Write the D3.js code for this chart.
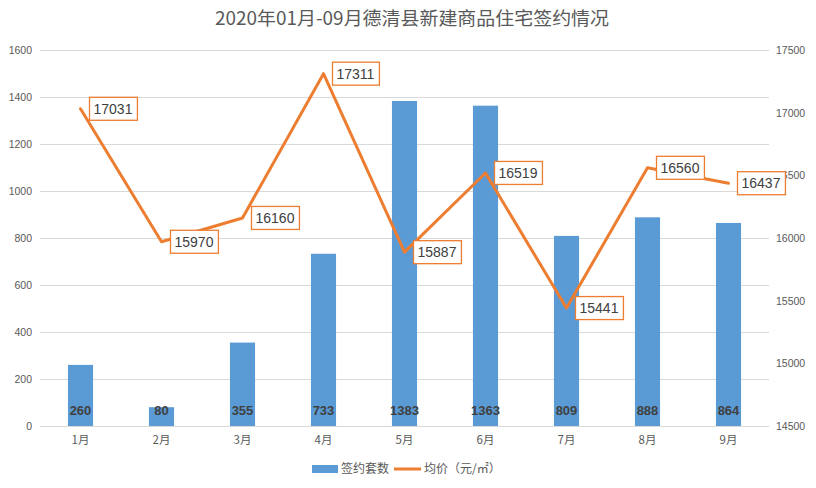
<!DOCTYPE html>
<html>
<head>
<meta charset="utf-8">
<script src="https://cdn.jsdelivr.net/npm/d3@7"></script>
<style>
    body { margin: 0; background: #fff; }
    svg { display: block; font-family: "Liberation Sans", "Noto Sans CJK SC", sans-serif; }
    .grid line { stroke: #d9d9d9; stroke-width: 1; }
    .grid path { display: none; }
    .axis path, .axis line { display: none; }
    .axis text { fill: #595959; font-size: 10.5px; }
    .xaxis text { font-size: 11.5px; font-family: "Noto Sans CJK SC", sans-serif; }
</style>
</head>
<body>
<script>
//chart data
var months = ["1月", "2月", "3月", "4月", "5月", "6月", "7月", "8月", "9月"];
var deals = [260, 80, 355, 733, 1383, 1363, 809, 888, 864]; //签约套数
var prices = [17031, 15970, 16160, 17311, 15887, 16519, 15441, 16560, 16437]; //均价
var leftTicks = [0, 200, 400, 600, 800, 1000, 1200, 1400, 1600];
var rightTicks = [14500, 15000, 15500, 16000, 16500, 17000, 17500];
var seriesNames = ["签约套数", "均价（元/㎡）"];
var title = "2020年01月-09月德清县新建商品住宅签约情况";

var width = 816,
    height = 488,
    margin = {left: 40, right: 47, top: 50, bottom: 62};

var svg = d3.select("body")
    .append("svg")
    .attr("width", width)
    .attr("height", height);

//scales
var x = d3.scaleBand()
    .domain(months)
    .range([margin.left, width - margin.right])
    .padding(0);

var yLeft = d3.scaleLinear()
    .domain([0, 1600])
    .range([height - margin.bottom, margin.top]);

var yRight = d3.scaleLinear()
    .domain([14500, 17500])
    .range([height - margin.bottom, margin.top]);

var barWidth = x.bandwidth() * 0.31;

//gridlines
svg.append("g")
    .attr("class", "grid")
    .attr("transform", "translate(" + margin.left + ",0)")
    .call(d3.axisLeft(yLeft)
        .tickValues(leftTicks)
        .tickSize(-(width - margin.left - margin.right))
        .tickFormat(""));

//left axis
svg.append("g")
    .attr("class", "axis")
    .attr("transform", "translate(" + margin.left + ",0)")
    .call(d3.axisLeft(yLeft).tickValues(leftTicks).tickFormat(d3.format("d")).tickSize(0).tickPadding(8));

//right axis
svg.append("g")
    .attr("class", "axis")
    .attr("transform", "translate(" + (width - margin.right) + ",0)")
    .call(d3.axisRight(yRight).tickValues(rightTicks).tickFormat(d3.format("d")).tickSize(0).tickPadding(7));

//category axis
svg.append("g")
    .attr("class", "axis xaxis")
    .attr("transform", "translate(0," + (height - margin.bottom) + ")")
    .call(d3.axisBottom(x).tickSize(0).tickPadding(10));

//bars
svg.selectAll(".bar")
    .data(deals)
    .enter()
    .append("rect")
    .attr("class", "bar")
    .attr("x", function(d, i){ return x(months[i]) + (x.bandwidth() - barWidth) / 2; })
    .attr("width", barWidth)
    .attr("y", function(d){ return yLeft(d); })
    .attr("height", function(d){ return yLeft(0) - yLeft(d); })
    .style("fill", "#5b9bd5");

//bar value labels
svg.selectAll(".barLabel")
    .data(deals)
    .enter()
    .append("text")
    .attr("class", "barLabel")
    .attr("x", function(d, i){ return x(months[i]) + x.bandwidth() / 2; })
    .attr("y", yLeft(0) - 11)
    .attr("text-anchor", "middle")
    .style("font-size", "13px")
    .style("font-weight", "bold")
    .style("fill", "#404040")
    .text(function(d){ return d; });

//price line
var line = d3.line()
    .x(function(d, i){ return x(months[i]) + x.bandwidth() / 2; })
    .y(function(d){ return yRight(d); });

svg.append("path")
    .datum(prices)
    .attr("d", line)
    .style("fill", "none")
    .style("stroke", "#ed7d31")
    .style("stroke-width", 3)
    .style("stroke-linejoin", "round")
    .style("stroke-linecap", "round");

//price labels in boxes
var priceLabels = svg.selectAll(".priceLabel")
    .data(prices)
    .enter()
    .append("g")
    .attr("class", "priceLabel")
    .attr("transform", function(d, i){
        return "translate(" + (x(months[i]) + x.bandwidth() / 2 + 9) + "," + yRight(d) + ")";
    });

priceLabels.append("rect")
    .attr("y", -11.5)
    .attr("height", 23)
    .style("fill", "#fff")
    .style("stroke", "#ed7d31")
    .style("stroke-width", 1.3);

priceLabels.append("text")
    .attr("x", 4)
    .attr("y", 5)
    .style("font-size", "14px")
    .style("fill", "#404040")
    .text(function(d){ return d; });

priceLabels.each(function(){
    var g = d3.select(this);
    var w = g.select("text").node().getComputedTextLength();
    g.select("rect").attr("width", w + 9);
});

//title
svg.append("text")
    .attr("x", 412)
    .attr("y", 25)
    .attr("text-anchor", "middle")
    .attr("textLength", 394)
    .attr("lengthAdjust", "spacingAndGlyphs")
    .style("font-family", "'Noto Sans CJK SC', sans-serif")
    .style("font-size", "18.5px")
    .style("fill", "#595959")
    .text(title);

//legend
var legend = svg.append("g")
    .attr("transform", "translate(0,469)");

legend.append("rect")
    .attr("x", 312)
    .attr("y", -4)
    .attr("width", 26)
    .attr("height", 8)
    .style("fill", "#5b9bd5");

legend.append("text")
    .attr("x", 341)
    .attr("y", 4)
    .style("font-family", "'Noto Sans CJK SC', sans-serif")
    .style("font-size", "12px")
    .style("fill", "#595959")
    .text(seriesNames[0]);

legend.append("line")
    .attr("x1", 394)
    .attr("x2", 421)
    .style("stroke", "#ed7d31")
    .style("stroke-width", 3);

legend.append("text")
    .attr("x", 424)
    .attr("y", 4)
    .style("font-family", "'Noto Sans CJK SC', sans-serif")
    .style("font-size", "12px")
    .style("fill", "#595959")
    .text(seriesNames[1]);
</script>
</body>
</html>
